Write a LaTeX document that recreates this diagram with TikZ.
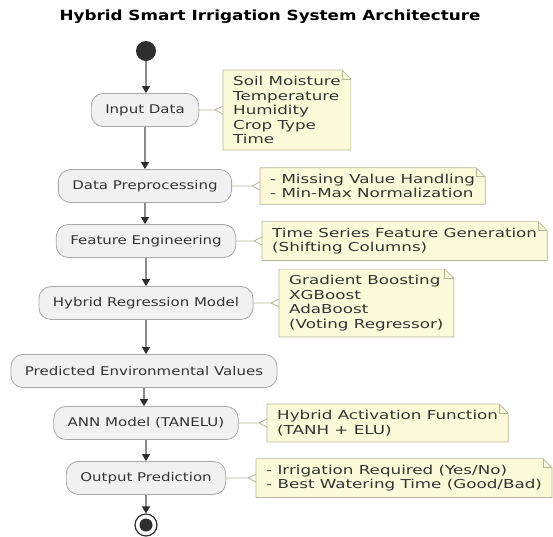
\documentclass[tikz,border=0pt]{standalone}
\usepackage{fontspec}
\setmainfont{DejaVu Sans}
\newfontfamily\boxfont[FakeStretch=1.25]{DejaVu Sans}
\newfontfamily\notefont[FakeStretch=1.36]{DejaVu Sans}
\newfontfamily\titlefont[FakeStretch=1.2]{DejaVu Sans}
\usetikzlibrary{arrows.meta,backgrounds}

\definecolor{boxfill}{HTML}{F1F1F1}
\definecolor{boxline}{HTML}{A8A8A8}
\definecolor{notefill}{HTML}{FBFBDA}
\definecolor{noteline}{HTML}{B5B598}
\definecolor{flowline}{HTML}{8A8A8A}
\definecolor{flowhead}{HTML}{2E2E2E}
\definecolor{txt}{HTML}{333333}

\tikzset{
  actbox/.style={draw=boxline, fill=boxfill, line width=0.8pt, rounded corners=12pt,
    minimum height=33pt, inner xsep=14pt, text=txt, font=\boxfont\fontsize{12}{14.5}\selectfont},
  notetext/.style={anchor=west, align=left, inner xsep=10pt, inner ysep=6pt, text=txt,
    font=\notefont\fontsize{12.3}{14.5}\selectfont},
  flow/.style={draw=flowline, line width=1.3pt, -{Triangle[length=7pt, width=8pt, color=flowhead]}},
  notelink/.style={draw=noteline, line width=0.7pt}
}

% folded note outline behind a note node
\newcommand{\notefold}[1]{%
  \begin{scope}[on background layer]
    \draw[fill=notefill, draw=noteline, line width=0.7pt] (#1.north west) -- ([xshift=-9pt]#1.north east)
      -- ([yshift=-9pt]#1.north east) -- (#1.south east) -- (#1.south west) -- cycle;
  \end{scope}
  \draw[noteline, line width=0.7pt] ([xshift=-9pt]#1.north east) -- ([xshift=-9pt,yshift=-9pt]#1.north east)
    -- ([yshift=-9pt]#1.north east);
}

\begin{document}
\begin{tikzpicture}[x=1pt, y=-1pt]
  \useasboundingbox (0,0) rectangle (553,536);

  % Title
  \node[font=\titlefont\bfseries\fontsize{14}{16}\selectfont] (title) at (270,17) {Hybrid Smart Irrigation System Architecture};

  % Start and end
  \node[circle, fill=flowhead, minimum size=20pt, inner sep=0pt] (start) at (146,51) {};
  \node[circle, draw=flowhead, line width=1.2pt, fill=white, minimum size=22pt, inner sep=0pt] (stop) at (146,525) {};
  \fill[flowhead] (stop.center) circle (6.5pt);

  % Activities
  \node[actbox] (inp) at (145,110) {Input Data};
  \node[actbox] (pre) at (145,186) {Data Preprocessing};
  \node[actbox] (feat) at (146,241) {Feature Engineering};
  \node[actbox] (hyb) at (146,303) {Hybrid Regression Model};
  \node[actbox] (pred) at (144,371) {Predicted Environmental Values};
  \node[actbox] (ann) at (146,423) {ANN Model (TANELU)};
  \node[actbox] (outp) at (146,478) {Output Prediction};

  % Notes
  \node[notetext] (ninp) at (223,110) {Soil Moisture\\Temperature\\Humidity\\Crop Type\\Time};
  \node[notetext] (npre) at (260,186) {- Missing Value Handling\\- Min-Max Normalization};
  \node[notetext] (nfeat) at (262,241) {Time Series Feature Generation\\(Shifting Columns)};
  \node[notetext] (nhyb) at (279,303) {Gradient Boosting\\XGBoost\\AdaBoost\\(Voting Regressor)};
  \node[notetext] (nann) at (267,423) {Hybrid Activation Function\\(TANH + ELU)};
  \node[notetext] (noutp) at (256,478) {- Irrigation Required (Yes/No)\\- Best Watering Time (Good/Bad)};
  \foreach \n in {ninp,npre,nfeat,nhyb,nann,noutp} {\notefold{\n}}

  % Flow
  \foreach \a/\b in {start/inp, inp/pre, pre/feat, feat/hyb, hyb/pred, pred/ann, ann/outp, outp/stop}
    \draw[flow] (\a.south) -- (\a.south |- \b.north);

  % Note links
  \foreach \a/\b in {inp/ninp, pre/npre, feat/nfeat, hyb/nhyb, ann/nann, outp/noutp} {
    \draw[notelink] (\a.east) -- ([xshift=-8pt]\b.west) -- ([yshift=4pt]\b.west);
    \draw[notelink] ([xshift=-8pt]\b.west) -- ([yshift=-4pt]\b.west);
  }
\end{tikzpicture}
\end{document}
